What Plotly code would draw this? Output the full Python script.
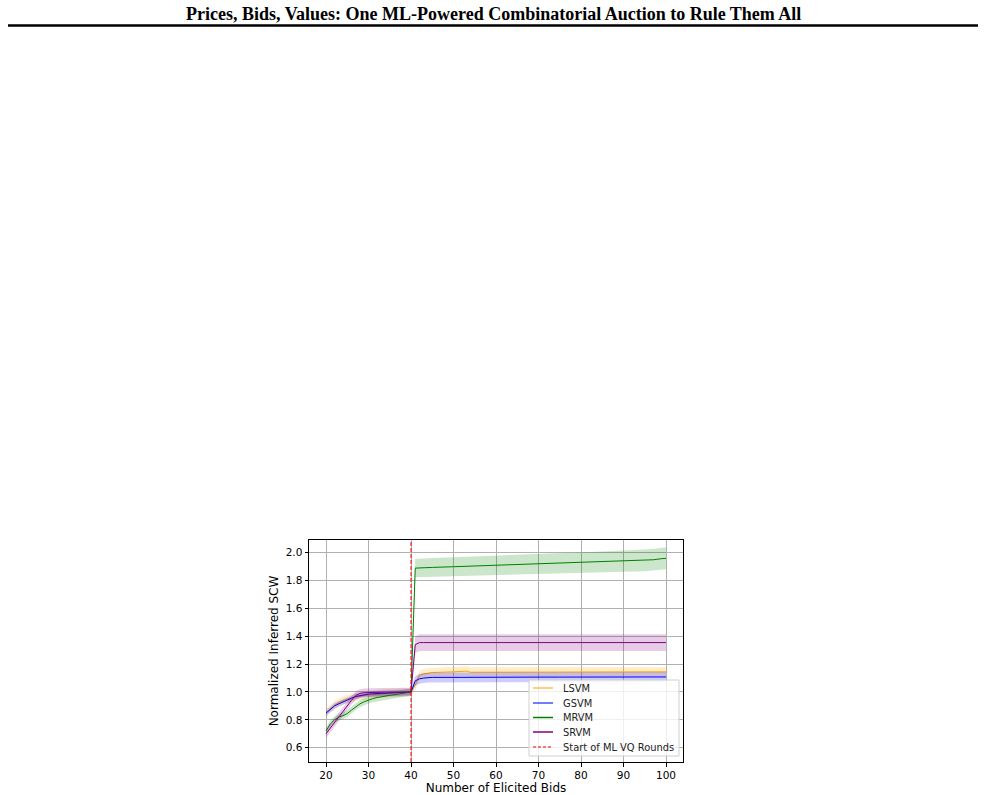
import numpy as np
import plotly.graph_objects as go

# ---------------- data ----------------
x_bids = [20, 21, 22, 23, 24, 25, 26, 27, 28, 29, 30, 31, 32, 33, 34, 35, 36, 37, 38, 39,
          40, 41, 42, 43, 44, 45, 50, 53, 54, 55, 60, 65, 70, 75, 80, 85, 90, 95, 97, 99, 100]

lsvm_mean = [0.850, 0.880, 0.905, 0.925, 0.940, 0.950, 0.958, 0.965, 0.970, 0.975,
             0.978, 0.982, 0.985, 0.988, 0.990, 0.992, 0.994, 0.996, 0.997, 0.998,
             1.000, 1.050, 1.120, 1.130, 1.135, 1.140, 1.145, 1.150, 1.142, 1.142,
             1.145, 1.145, 1.145, 1.145, 1.145, 1.145, 1.145, 1.145, 1.145, 1.145, 1.145]
lsvm_std = [0.030, 0.030, 0.030, 0.030, 0.030, 0.030, 0.030, 0.030, 0.030, 0.030,
            0.030, 0.030, 0.030, 0.030, 0.030, 0.030, 0.030, 0.030, 0.030, 0.030,
            0.030, 0.035, 0.035, 0.035, 0.035, 0.035, 0.035, 0.035, 0.035, 0.035,
            0.035, 0.035, 0.035, 0.035, 0.035, 0.035, 0.035, 0.035, 0.035, 0.035, 0.035]

gsvm_mean = [0.848, 0.875, 0.900, 0.915, 0.930, 0.943, 0.955, 0.968, 0.975, 0.980,
             0.985, 0.987, 0.988, 0.989, 0.990, 0.991, 0.993, 0.994, 0.995, 0.997,
             1.000, 1.080, 1.095, 1.100, 1.103, 1.105, 1.105, 1.106, 1.106, 1.106,
             1.106, 1.107, 1.107, 1.107, 1.107, 1.108, 1.108, 1.108, 1.108, 1.108, 1.108]
gsvm_std = [0.020, 0.020, 0.020, 0.020, 0.020, 0.020, 0.020, 0.020, 0.020, 0.020,
            0.020, 0.020, 0.020, 0.020, 0.020, 0.020, 0.020, 0.020, 0.020, 0.020,
            0.020, 0.035, 0.035, 0.035, 0.035, 0.035, 0.035, 0.035, 0.035, 0.035,
            0.035, 0.035, 0.035, 0.035, 0.035, 0.035, 0.035, 0.035, 0.035, 0.035, 0.035]

mrvm_mean = [0.720, 0.770, 0.800, 0.820, 0.830, 0.845, 0.870, 0.895, 0.915, 0.930,
             0.943, 0.952, 0.960, 0.967, 0.972, 0.976, 0.980, 0.985, 0.990, 0.995,
             1.000, 1.890, 1.892, 1.893, 1.894, 1.895, 1.900, 1.903, 1.905, 1.906,
             1.912, 1.916, 1.920, 1.925, 1.930, 1.935, 1.940, 1.945, 1.950, 1.958, 1.960]
mrvm_std = [0.025, 0.025, 0.025, 0.025, 0.025, 0.025, 0.025, 0.025, 0.025, 0.025,
            0.025, 0.025, 0.025, 0.025, 0.025, 0.025, 0.025, 0.025, 0.025, 0.025,
            0.025, 0.066, 0.066, 0.066, 0.066, 0.067, 0.068, 0.069, 0.069, 0.069,
            0.070, 0.071, 0.072, 0.073, 0.074, 0.075, 0.076, 0.077, 0.078, 0.078, 0.078]

srvm_mean = [0.700, 0.740, 0.780, 0.820, 0.860, 0.905, 0.940, 0.975, 0.990, 0.995,
             0.997, 0.997, 0.997, 0.998, 0.998, 0.998, 0.998, 0.999, 0.999, 0.999,
             1.000, 1.340, 1.355, 1.355, 1.355, 1.355, 1.355, 1.355, 1.355, 1.355,
             1.355, 1.355, 1.355, 1.355, 1.355, 1.355, 1.355, 1.355, 1.355, 1.355, 1.355]
srvm_std = [0.030, 0.030, 0.030, 0.030, 0.030, 0.030, 0.030, 0.030, 0.030, 0.030,
            0.030, 0.030, 0.030, 0.030, 0.030, 0.030, 0.030, 0.030, 0.030, 0.030,
            0.030, 0.060, 0.060, 0.060, 0.060, 0.060, 0.060, 0.060, 0.060, 0.060,
            0.060, 0.060, 0.060, 0.060, 0.060, 0.060, 0.060, 0.060, 0.060, 0.060, 0.060]

series_names = ["LSVM", "GSVM", "MRVM", "SRVM"]
vq_start = 40
vline_label = "Start of ML VQ Rounds"
title_text = "Prices, Bids, Values: One ML-Powered Combinatorial Auction to Rule Them All"

x_ticks = [20, 30, 40, 50, 60, 70, 80, 90, 100]
y_ticks = [0.6, 0.8, 1.0, 1.2, 1.4, 1.6, 1.8, 2.0]

# ---------------- styling ----------------
line_colors = ["orange", "blue", "green", "purple"]
band_colors = ["rgba(255,165,0,0.2)", "rgba(0,0,255,0.2)",
               "rgba(0,128,0,0.2)", "rgba(128,0,128,0.2)"]
legend_colors = ["rgba(255,165,0,0.7)", "rgba(0,0,255,0.7)",
                 "rgba(0,128,0,1)", "rgba(128,0,128,1)"]

means = [lsvm_mean, gsvm_mean, mrvm_mean, srvm_mean]
stds = [lsvm_std, gsvm_std, mrvm_std, srvm_std]

W, H = 985, 795
ml, mr, mt, mb = 309, 302, 540, 33
pw, ph = W - ml - mr, H - mt - mb


def px(xp):
    return (xp - ml) / pw


def py(yp):
    return (H - mb - yp) / ph


fig = go.Figure()
x = np.array(x_bids)
for name, m, s, lc, bc in zip(series_names, means, stds, line_colors, band_colors):
    m = np.array(m)
    s = np.array(s)
    fig.add_trace(go.Scatter(
        x=np.concatenate([x, x[::-1]]),
        y=np.concatenate([m + s, (m - s)[::-1]]),
        fill="toself", fillcolor=bc, line=dict(width=0),
        hoverinfo="skip", showlegend=False, mode="lines"))
    fig.add_trace(go.Scatter(x=x, y=m, mode="lines", name=name,
                             line=dict(color=lc, width=1), showlegend=False))

# vertical line
fig.add_shape(type="line", xref="x", yref="paper", x0=vq_start, x1=vq_start,
              y0=0, y1=1, line=dict(color="red", width=1, dash="4px,2px"))

# manual legend
shapes = []
annotations = []
lx0, lx1, ly0, ly1 = 529, 679, 680, 756
shapes.append(dict(type="rect", xref="paper", yref="paper",
                   x0=px(lx0), x1=px(lx1), y0=py(ly1), y1=py(ly0),
                   fillcolor="rgba(255,255,255,0.8)",
                   line=dict(color="#d0d0d0", width=1), layer="above"))
entry_y = [688, 703, 717.5, 732, 747]
labels = series_names + [vline_label]
colors = legend_colors + ["rgba(255,0,0,0.7)"]
dashes = ["solid"] * 4 + ["3px,2px"]
for yy, lab, col, d in zip(entry_y, labels, colors, dashes):
    shapes.append(dict(type="line", xref="paper", yref="paper",
                       x0=px(533), x1=px(553), y0=py(yy), y1=py(yy),
                       line=dict(color=col, width=1.5, dash=d), layer="above"))
    annotations.append(dict(x=px(561), y=py(yy), xref="paper", yref="paper",
                            text=lab, showarrow=False, xanchor="left", yanchor="middle",
                            font=dict(family="DejaVu Sans", size=9.9, color="#222")))

# page title and rule
annotations.append(dict(x=px(493), y=py(13.5), xref="paper", yref="paper",
                        text="<b>" + title_text + "</b>", showarrow=False,
                        xanchor="center", yanchor="middle",
                        font=dict(family="Liberation Serif", size=18, color="black")))
shapes.append(dict(type="line", xref="paper", yref="paper",
                   x0=px(8), x1=px(978), y0=py(25.5), y1=py(25.5),
                   line=dict(color="black", width=2.4)))

for sh in shapes:
    fig.add_shape(**sh)

fig.update_layout(
    width=W, height=H,
    margin=dict(l=ml, r=mr, t=mt, b=mb, pad=0, autoexpand=False),
    paper_bgcolor="white", plot_bgcolor="white",
    annotations=annotations,
    showlegend=False,
    font=dict(family="DejaVu Sans", color="black"),
)
axis_common = dict(showline=True, linecolor="black", linewidth=1, mirror=True,
                   ticks="outside", ticklen=3.5, tickcolor="black", tickwidth=1,
                   showgrid=True, gridcolor="#b0b0b0", gridwidth=1, zeroline=False,
                   automargin=False,
                   tickfont=dict(family="DejaVu Sans", size=10.5, color="black"))
fig.update_xaxes(range=[16, 104], tickvals=x_ticks, ticktext=[str(t) for t in x_ticks],
                 title=dict(text="Number of Elicited Bids", standoff=2,
                            font=dict(family="DejaVu Sans", size=12)), **axis_common)
fig.update_yaxes(range=[0.497, 2.092], tickvals=y_ticks,
                 ticktext=["%.1f" % t for t in y_ticks],
                 title=dict(text="Normalized Inferred SCW", standoff=4,
                            font=dict(family="DejaVu Sans", size=12)), **axis_common)

fig.write_html("out.html")
